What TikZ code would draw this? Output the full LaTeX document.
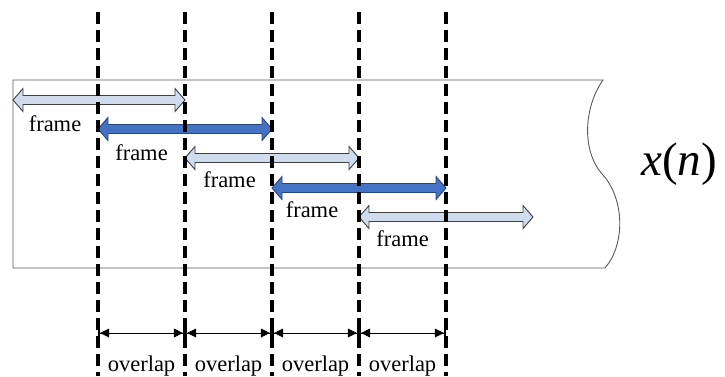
\documentclass[tikz,border=0pt]{standalone}
\usepackage{fontspec}
\setmainfont{Liberation Serif}
\usetikzlibrary{calc}
\usetikzlibrary{arrows.meta}

\definecolor{bleuclair}{RGB}{207,220,238}
\definecolor{bleufonce}{RGB}{68,114,196}
\definecolor{bleunuit}{RGB}{40,70,125}

% fleche double epaisse entre deux points
\newcommand{\bloc}[3]{%
  \draw[#1] (#2) -- ($(#2)+(10,-11.5)$) -- ($(#2)+(10,-4.5)$) -- ($(#3)+(-10,-4.5)$)
    -- ($(#3)+(-10,-11.5)$) -- (#3) -- ($(#3)+(-10,11.5)$) -- ($(#3)+(-10,4.5)$)
    -- ($(#2)+(10,4.5)$) -- ($(#2)+(10,11.5)$) -- cycle;}

\begin{document}
\begin{tikzpicture}[x=1pt,y=-1pt,
    claire/.style={draw=black!75,fill=bleuclair,line width=0.9pt},
    foncee/.style={draw=bleunuit,fill=bleufonce,line width=0.9pt},
    pointille/.style={line width=3.3pt,dash pattern=on 12pt off 6pt},
    cote/.style={line width=0.8pt,{Bar[width=13pt,line width=2.2pt]Triangle[length=9pt,width=9pt]}-{Triangle[length=9pt,width=9pt]Bar[width=13pt,line width=2.2pt]}},
    texte/.style={font=\fontsize{22.5}{26}\selectfont,inner sep=0pt,anchor=base}]

    \useasboundingbox (0,0) rectangle (725,376);

    % Signal x(n)
    \draw[black!65,line width=0.9pt] (13,80) -- (603,80)
        .. controls (585,105) and (580,150) .. (603,175)
        .. controls (625,200) and (625,245) .. (605,268) -- (13,268) -- cycle;
    \node[font=\fontsize{47}{52}\selectfont,inner sep=0pt] (xn) at (679,164) {\textit{x}(\textit{n})};

    % Debuts et fins des trames
    \coordinate (d1) at (13,100);  \coordinate (f1) at (185,100);
    \coordinate (d2) at (98,129);  \coordinate (f2) at (272,129);
    \coordinate (d3) at (185,158); \coordinate (f3) at (359,158);
    \coordinate (d4) at (272,188); \coordinate (f4) at (446,188);
    \coordinate (d5) at (359,217); \coordinate (f5) at (533,217);

    % Trames
    \bloc{claire}{d1}{f1}
    \bloc{foncee}{d2}{f2}
    \bloc{claire}{d3}{f3}
    \bloc{foncee}{d4}{f4}
    \bloc{claire}{d5}{f5}

    \node[texte] (t1) at (55,131.5) {frame};
    \node[texte] (t2) at (141.5,160.5) {frame};
    \node[texte] (t3) at (229.5,187) {frame};
    \node[texte] (t4) at (312,217) {frame};
    \node[texte] (t5) at (402.5,246.5) {frame};

    % Lignes de decoupage
    \foreach \i/\x in {1/98,2/185,3/272,4/359,5/446} {
        \coordinate (h\i) at (\x,12);
        \coordinate (b\i) at (\x,376);
        \coordinate (c\i) at (\x,333);
        \draw[pointille] (h\i) -- (b\i);
    }

    % Recouvrements
    \foreach \i/\j in {1/2,2/3,3/4,4/5} {
        \draw[cote] (c\i) -- (c\j);
        \node[texte] (o\i) at ($(c\i)!0.5!(c\j)+(0,38.5)$) {overlap};
    }

\end{tikzpicture}
\end{document}
